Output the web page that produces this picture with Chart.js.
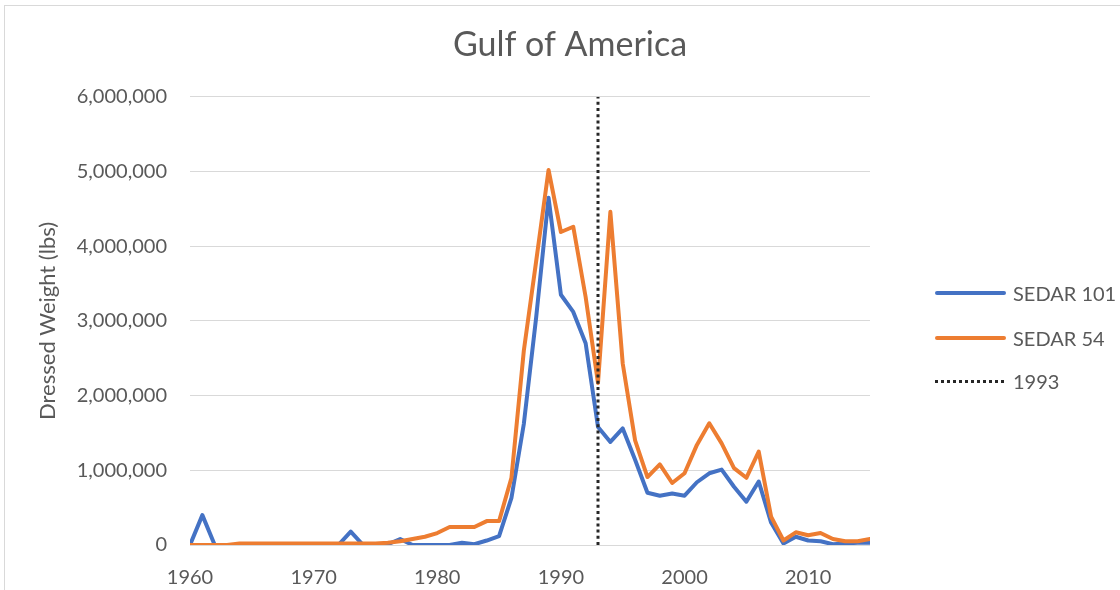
<!DOCTYPE html>
<html>
<head>
<meta charset="utf-8">
<script src="https://cdn.jsdelivr.net/npm/chart.js@4.4.1/dist/chart.umd.min.js"></script>
<style>
    html, body { margin: 0; padding: 0; background: #fff; }
    body { width: 1120px; height: 590px; overflow: hidden; position: relative; font-family: Lato, "Open Sans", sans-serif; }
    #frame { position: absolute; left: 4px; top: 5px; width: 1200px; height: 700px; border: 1px solid #D9D9D9; box-sizing: border-box; }
    #chartCanvas { position: absolute; left: 2px; top: 0; }
    #legend { position: absolute; left: 0; top: 0; }
    .legend-row { position: absolute; left: 935px; height: 24px; display: flex; align-items: center; }
    .legend-sample { width: 71px; height: 4px; border-radius: 2px; margin-right: 7px; }
    .legend-text { font-size: 20px; color: #595959; white-space: nowrap; }
</style>
</head>
<body>
<div id="frame"></div>
<canvas id="chartCanvas" width="1136" height="590"></canvas>
<div id="legend"></div>
<script>
// Data
const years = [
    1960, 1961, 1962, 1963, 1964, 1965, 1966, 1967, 1968, 1969,
    1970, 1971, 1972, 1973, 1974, 1975, 1976, 1977, 1978, 1979,
    1980, 1981, 1982, 1983, 1984, 1985, 1986, 1987, 1988, 1989,
    1990, 1991, 1992, 1993, 1994, 1995, 1996, 1997, 1998, 1999,
    2000, 2001, 2002, 2003, 2004, 2005, 2006, 2007, 2008, 2009,
    2010, 2011, 2012, 2013, 2014, 2015
];
const sedar101 = [
    0, 400000, 0, 0, 0, 0, 0, 0, 0, 0,
    0, 0, 0, 180000, 0, 0, 10000, 80000, 0, 0,
    0, 0, 30000, 10000, 60000, 120000, 630000, 1620000, 3050000, 4650000,
    3350000, 3120000, 2700000, 1580000, 1380000, 1560000, 1140000, 700000, 660000, 690000,
    660000, 840000, 960000, 1010000, 780000, 580000, 850000, 300000, 20000, 110000,
    60000, 50000, 10000, 20000, 30000, 30000
];
const sedar54 = [
    0, 0, 0, 0, 20000, 20000, 20000, 20000, 20000, 20000,
    20000, 20000, 20000, 20000, 20000, 20000, 30000, 50000, 80000, 110000,
    160000, 240000, 240000, 240000, 320000, 320000, 900000, 2600000, 3800000, 5020000,
    4190000, 4260000, 3320000, 2170000, 4460000, 2430000, 1400000, 910000, 1080000, 830000,
    960000, 1340000, 1630000, 1360000, 1030000, 900000, 1250000, 380000, 60000, 170000,
    130000, 160000, 80000, 50000, 50000, 80000
];
const markerYears = [1993, 1993];
const markerValues = [0, 6000000];

const xTicks = [1960, 1970, 1980, 1990, 2000, 2010];
const yTicks = [0, 1000000, 2000000, 3000000, 4000000, 5000000, 6000000];

const seriesLabels = ['SEDAR 101', 'SEDAR 54', '1993'];
const seriesColors = ['#4472C4', '#ED7D31', '#262626'];

const toPoints = (xs, ys) => xs.map((x, i) => ({ x: x, y: ys[i] }));

const textColor = '#595959';
const fontFamily = 'Lato, "Open Sans", sans-serif';

const ctx = document.getElementById('chartCanvas').getContext('2d');

new Chart(ctx, {
    type: 'line',
    data: {
        datasets: [
            {
                label: seriesLabels[0],
                data: toPoints(years, sedar101),
                borderColor: seriesColors[0],
                borderWidth: 4,
                borderJoinStyle: 'round',
                borderCapStyle: 'round',
                pointRadius: 0,
                tension: 0,
                fill: false,
                order: 2
            },
            {
                label: seriesLabels[1],
                data: toPoints(years, sedar54),
                borderColor: seriesColors[1],
                borderWidth: 4,
                borderJoinStyle: 'round',
                borderCapStyle: 'round',
                pointRadius: 0,
                tension: 0,
                fill: false,
                order: 1
            },
            {
                label: seriesLabels[2],
                data: toPoints(markerYears, markerValues),
                borderColor: seriesColors[2],
                borderWidth: 3,
                borderDash: [3, 3.2],
                pointRadius: 0,
                tension: 0,
                fill: false,
                order: 0
            }
        ]
    },
    options: {
        responsive: false,
        animation: false,
        events: [],
        plugins: {
            legend: { display: false },
            tooltip: { enabled: false },
            title: {
                display: true,
                text: 'Gulf of America',
                color: textColor,
                font: { family: fontFamily, size: 34, weight: 'normal', lineHeight: 1.2 },
                padding: { top: 25, bottom: 31 }
            }
        },
        scales: {
            x: {
                type: 'linear',
                min: 1960,
                max: 2015,
                grid: { display: false, drawTicks: false },
                border: { display: false },
                afterBuildTicks: (scale) => {
                    scale.ticks = xTicks.map(v => ({ value: v }));
                },
                afterFit: (scale) => {
                    scale.height = 45;
                },
                ticks: {
                    color: textColor,
                    font: { family: fontFamily, size: 20 },
                    padding: 21,
                    maxRotation: 0,
                    autoSkip: false,
                    callback: (value) => String(value)
                }
            },
            y: {
                min: 0,
                max: 6000000,
                grid: { color: '#D9D9D9', lineWidth: 1, drawTicks: false },
                border: { display: false },
                afterBuildTicks: (scale) => {
                    scale.ticks = yTicks.map(v => ({ value: v }));
                },
                afterFit: (scale) => {
                    scale.width = 188;
                },
                ticks: {
                    color: textColor,
                    font: { family: fontFamily, size: 20 },
                    padding: 23,
                    callback: (value) => value.toLocaleString('en-US')
                },
                title: {
                    display: true,
                    text: 'Dressed Weight (lbs)',
                    color: textColor,
                    font: { family: fontFamily, size: 22, lineHeight: 1.2 },
                    padding: { top: 33, bottom: 0 }
                }
            },
            // empty right-hand axis that keeps room for the legend column
            legendSpace: {
                type: 'linear',
                position: 'right',
                display: true,
                grid: { display: false, drawTicks: false },
                border: { display: false },
                ticks: { display: false },
                afterFit: (scale) => {
                    scale.width = 268;
                }
            }
        }
    }
});

// Legend on the right, built from the series labels and colours
const legendRowsTop = [281, 326, 369];
const legend = document.getElementById('legend');
seriesLabels.forEach((label, i) => {
    const row = document.createElement('div');
    row.className = 'legend-row';
    row.style.top = legendRowsTop[i] + 'px';
    const sample = document.createElement('div');
    sample.className = 'legend-sample';
    if (i === 2) {
        sample.style.height = '3px';
        sample.style.borderRadius = '0';
        sample.style.background = 'repeating-linear-gradient(to right, ' + seriesColors[i] + ' 0 3px, transparent 3px 6px)';
    } else {
        sample.style.background = seriesColors[i];
    }
    const text = document.createElement('span');
    text.className = 'legend-text';
    text.textContent = label;
    row.appendChild(sample);
    row.appendChild(text);
    legend.appendChild(row);
});
</script>
</body>
</html>
